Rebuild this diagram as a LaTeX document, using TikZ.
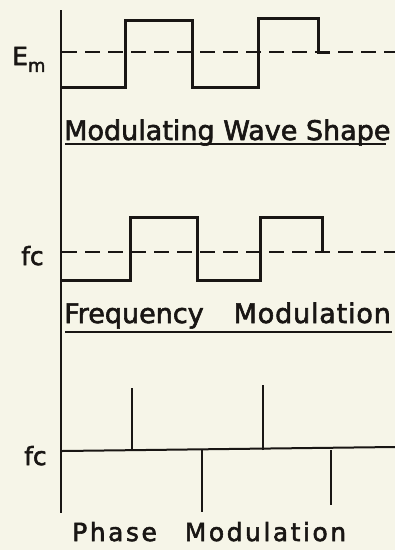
\documentclass[tikz,border=0pt]{standalone}
\usepackage{fontspec}
\setmainfont{DejaVu Sans}[FakeBold=2.2]
\definecolor{paper}{RGB}{246,245,232}
\definecolor{ink}{RGB}{25,22,20}

\begin{document}
\begin{tikzpicture}[x=1pt, y=-1pt, font=\fontsize{27}{30}\selectfont, color=ink]

% --- Define Styles ---
\tikzset{
    axis/.style={line width=1.5pt},
    wave/.style={line width=3pt, line join=miter},
    refline/.style={dash pattern=on 15pt off 8pt, line width=1.4pt},
    spike/.style={line width=2.8pt},
    caption/.style={anchor=base west, inner sep=0pt},
    ulbar/.style={line width=1.8pt},
    level/.style={inner sep=0pt, font=\fontsize{25}{28}\selectfont}
}

\fill[paper] (0,0) rectangle (395,550);
\useasboundingbox (0,0) rectangle (395,550);

% common vertical axis
\draw[axis] (61,10) -- (61,513);

% ================= 1. MODULATING WAVE =================
\begin{scope}[shift={(0,52)}]
    \node[level, anchor=base west] (em) at (12,13) {E\raisebox{-0.5ex}{\fontsize{18}{18}\selectfont m}};
    \draw[refline] (62,0) -- (395,0);
    \draw[wave] (62,35) -- (125,35) -- (125,-32) -- (192,-32) -- (192,35)
        -- (258,35) -- (258,-34) -- (318,-34) -- (318,0) -- (330,0);
    \node[caption] (modcap) at (64,88) {Modulating Wave Shape};
    \draw[ulbar] (65,92) -- (386,92);
\end{scope}

% ================= 2. FREQUENCY MODULATION =================
\begin{scope}[shift={(0,252)}]
    \node[level, anchor=base west] (fc1) at (21,13) {fc};
    \draw[refline] (62,0) -- (395,0);
    \draw[wave] (62,28) -- (130,28) -- (130,-35) -- (197,-35) -- (197,28)
        -- (260,28) -- (260,-35) -- (322,-35) -- (322,0);
    \node[caption] (fmcap) at (64,71)
        {Frequency\hspace{30pt}{\addfontfeature{LetterSpace=3}Modulation}};
    \draw[ulbar] (65,80) -- (392,80);
\end{scope}

% ================= 3. PHASE MODULATION =================
\begin{scope}[shift={(0,450)}]
    \node[level, anchor=base west] (fc2) at (24,15) {fc};
    \draw[axis, line width=2pt] (62,1) -- (395,-3);
    \foreach \x/\y in {132/-62, 263/-65}
        \draw[spike] (\x,0) -- (\x,\y);
    \foreach \x/\y in {202/62, 331/55}
        \draw[spike] (\x,0) -- (\x,\y);
    \node[caption, font=\fontsize{25}{28}\selectfont] (pmcap) at (72,91)
        {\addfontfeature{LetterSpace=10}Phase\hspace{28pt}Modulation};
\end{scope}

\end{tikzpicture}
\end{document}
